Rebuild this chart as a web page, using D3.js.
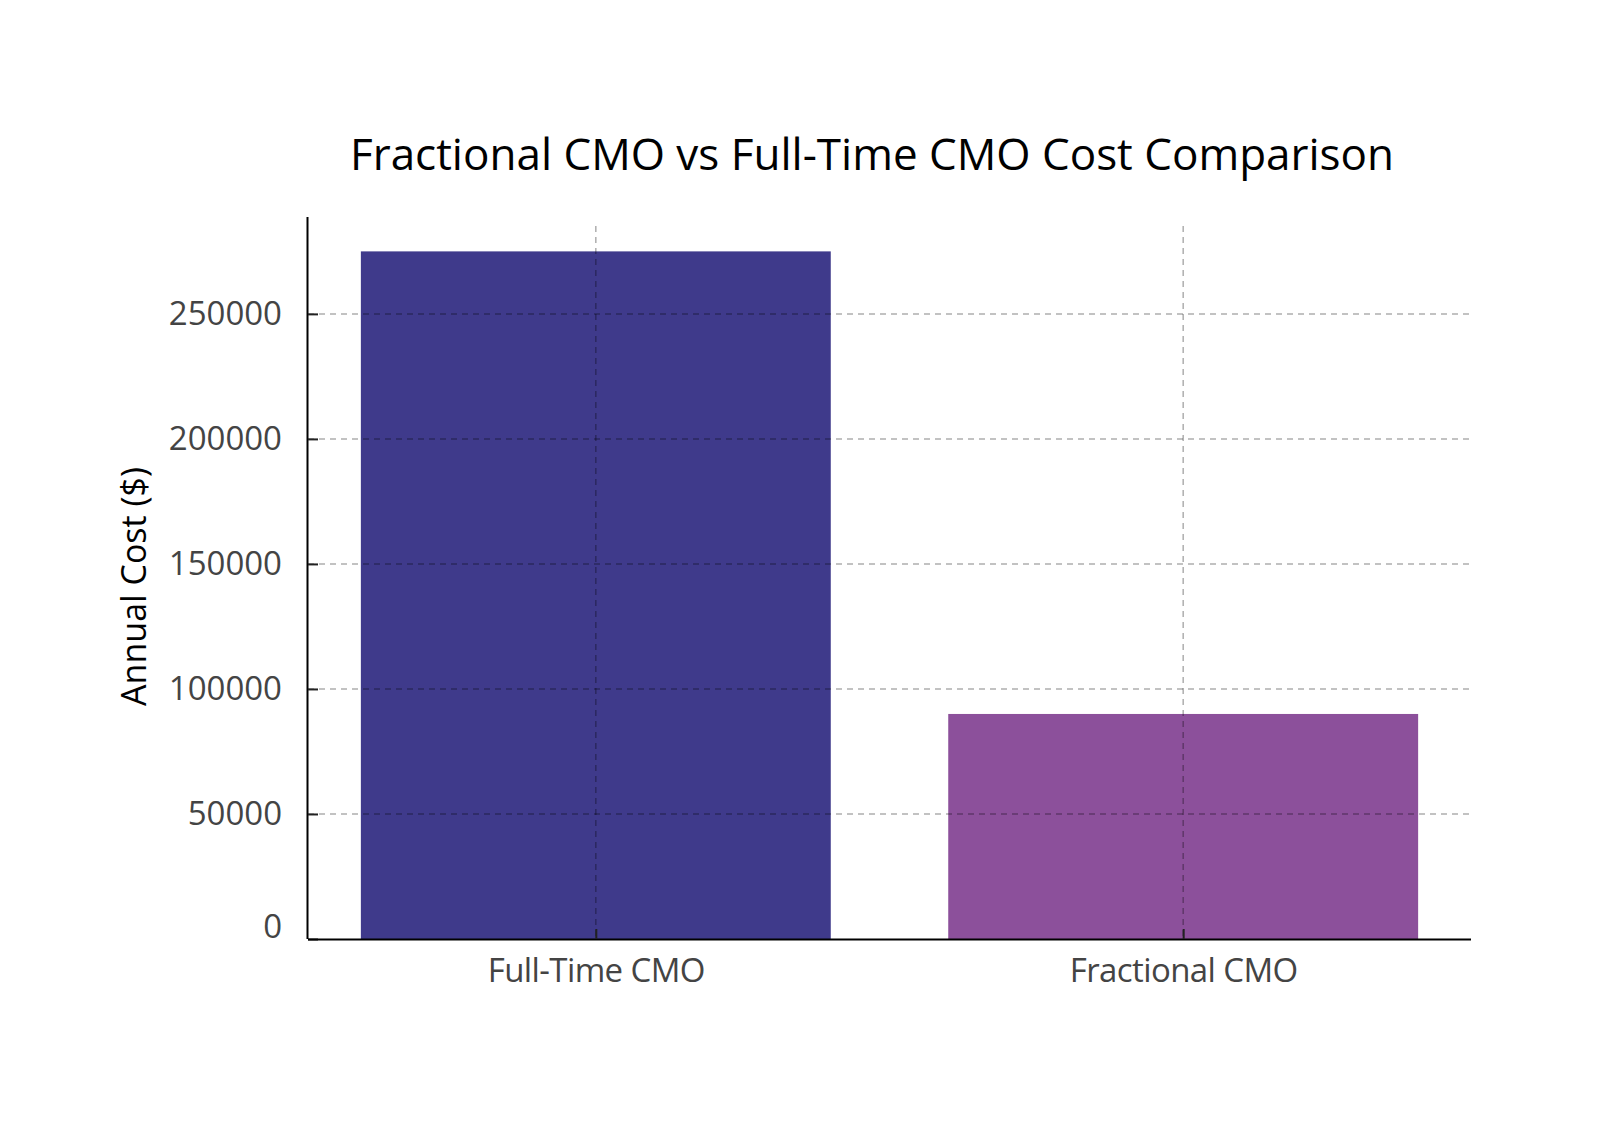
<!DOCTYPE html>
<html lang="en">
<head>
  <meta charset="UTF-8">
  <title>Fractional CMO vs Full-Time CMO Cost Comparison</title>
  <style>
    body {
      margin: 0;
      background: #fff;
    }
    svg {
      display: block;
      font-family: "Open Sans", "Liberation Sans", sans-serif;
    }
    .grid line {
      stroke: rgba(0, 0, 0, 0.32);
      stroke-width: 1.5px;
      stroke-dasharray: 6 5;
    }
    .tick-label {
      font-size: 33px;
      fill: #444;
    }
  </style>
</head>
<body>
  <svg width="1600" height="1132"></svg>
  <script src="https://d3js.org/d3.v7.min.js"></script>
  <script>
    const categories = ["Full-Time CMO", "Fractional CMO"];
    const costs = [275000, 90000];
    const barColors = ["#3f3a8b", "#8c509b"];
    const yTicks = [0, 50000, 100000, 150000, 200000, 250000];

    const width = 1600, height = 1132;
    const margin = { top: 217, right: 129, bottom: 193, left: 308 };
    const plotW = width - margin.left - margin.right,
          plotH = height - margin.top - margin.bottom;

    const svg = d3.select("svg");

    // matplotlib-style numeric x: bars at 0,1 width 0.8, 5% margins
    const x = d3.scaleLinear().domain([-0.49, 1.49]).range([0, plotW]);
    const y = d3.scaleLinear().domain([0, 288750]).range([plotH, 0]);

    const g = svg.append("g")
      .attr("transform", `translate(${margin.left},${margin.top})`);

    // bars
    g.selectAll("rect.bar")
      .data(costs)
      .enter().append("rect")
      .attr("class", "bar")
      .attr("x", (d, i) => x(i - 0.4))
      .attr("width", (d, i) => x(i + 0.4) - x(i - 0.4))
      .attr("y", d => y(d))
      .attr("height", d => plotH - y(d))
      .attr("fill", (d, i) => barColors[i]);

    // grid drawn over bars
    const grid = g.append("g").attr("class", "grid");
    grid.selectAll("line.h")
      .data(yTicks.filter(d => d > 0))
      .enter().append("line")
      .attr("x1", 0).attr("x2", plotW)
      .attr("y1", d => y(d)).attr("y2", d => y(d));
    grid.selectAll("line.v")
      .data(categories)
      .enter().append("line")
      .attr("x1", (d, i) => x(i)).attr("x2", (d, i) => x(i))
      .attr("y1", 9).attr("y2", plotH);

    // axes
    const yAxis = d3.axisLeft(y).tickValues(yTicks).tickSize(-10).tickPadding(26)
      .tickFormat(d3.format("d"));
    const yG = g.append("g").call(yAxis)
      .attr("font-family", null).attr("font-size", null);
    yG.select(".domain").attr("d", `M-0.5,0V${plotH}`).attr("stroke", "#000").attr("stroke-width", 2);
    yG.selectAll(".tick line").attr("stroke", "#222").attr("stroke-width", 2);
    yG.selectAll(".tick text").attr("class", "tick-label")
      .attr("dy", (d) => d === 0 ? "-0.05em" : "0.32em");

    const xAxis = d3.axisBottom(x).tickValues([0, 1]).tickSize(-10).tickPadding(20)
      .tickFormat((d, i) => categories[i]);
    const xG = g.append("g").attr("transform", `translate(0,${plotH})`).call(xAxis)
      .attr("font-family", null).attr("font-size", null);
    xG.select(".domain").attr("d", `M0,0.5H${plotW}`).attr("stroke", "#000").attr("stroke-width", 2);
    xG.selectAll(".tick line").attr("stroke", "#222").attr("stroke-width", 2);
    xG.selectAll(".tick text").attr("class", "tick-label")
      .style("letter-spacing", "-0.6px");

    // y label
    svg.append("text")
      .attr("transform", `translate(146,${margin.top + y(141000)}) rotate(-90)`)
      .attr("text-anchor", "middle")
      .attr("font-size", 34)
      .attr("fill", "#000")
      .text("Annual Cost ($)");

    // title
    svg.append("text")
      .attr("x", 872)
      .attr("y", 170)
      .attr("text-anchor", "middle")
      .attr("font-size", 44)
      .attr("fill", "#000")
      .text("Fractional CMO vs Full-Time CMO Cost Comparison");
  </script>
</body>
</html>
